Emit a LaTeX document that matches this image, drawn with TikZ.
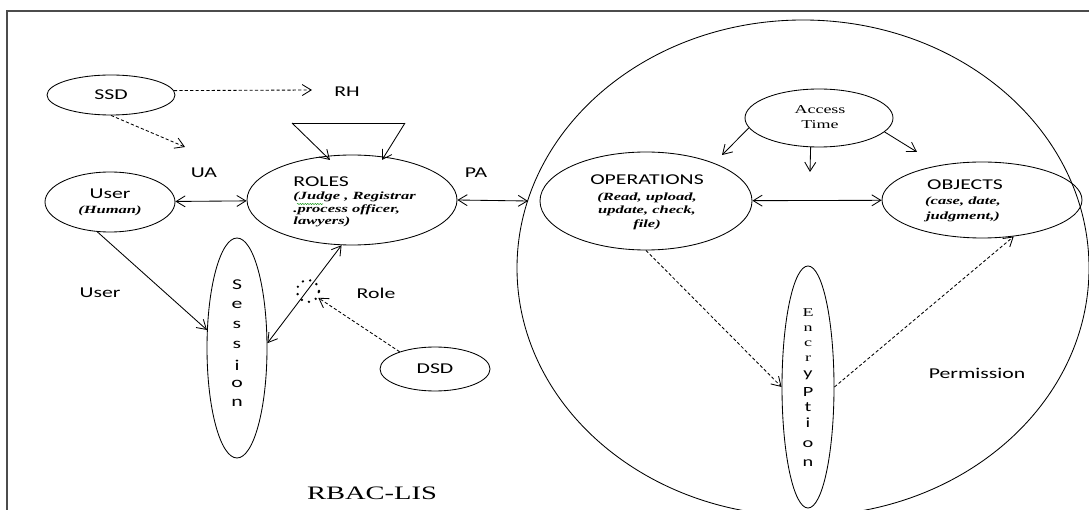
\documentclass[tikz,border=0pt]{standalone}
\usepackage{fontspec}
\usetikzlibrary{arrows.meta,shapes.geometric,decorations.pathmorphing}
\newfontfamily\lblfont[FakeStretch=1.45]{Carlito}
\newfontfamily\serfont[FakeStretch=1.5]{Liberation Serif}

\begin{document}
\begin{tikzpicture}[x=1pt,y=-1pt,line width=0.85pt,
  oval/.style={ellipse,draw,inner sep=0pt},
  lbl/.style={inner sep=0pt,font=\lblfont\fontsize{15}{18}\selectfont},
  sm/.style={inner sep=0pt,font=\lblfont\fontsize{14}{16}\selectfont},
  itl/.style={inner sep=0pt,font=\serfont\bfseries\itshape\fontsize{11}{14}\selectfont},
  ser/.style={inner sep=0pt,font=\serfont\fontsize{12}{14}\selectfont},
  arr/.style={-{Straight Barb[length=9pt,width=11pt]}},
  biarr/.style={{Straight Barb[length=9pt,width=11pt]}-{Straight Barb[length=9pt,width=11pt]}},
  dashline/.style={dash pattern=on 3.2pt off 2.2pt}]
\useasboundingbox (0,0) rectangle (1089,510);
\clip (0,0) rectangle (1089,510);

% outer frame (open at the right and bottom)
\draw[line width=1.3pt,black!70] (7,530) -- (7,11) -- (1100,11);

% ---------------- left part: users, roles, sessions ----------------
\node[oval,minimum width=128pt,minimum height=40pt] (ssd) at (111,95) {};
\node[lbl] (ssdtxt) at (111,95) {SSD};
\node[lbl] (rh) at (347,92) {RH};
\coordinate (rhin) at (312,90);
\coordinate (uain) at (185,147);

\node[oval,minimum width=130pt,minimum height=60pt] (user) at (110,202) {};
\node[lbl] (usertxt) at (110,194) {User};
\node[itl] (usersub) at (110,211) {(Human)};

\node[oval,minimum width=210pt,minimum height=90pt] (roles) at (352,200) {};
\node[lbl,anchor=west] (rolestxt) at (293,182) {ROLES};
\node[itl,anchor=west] (rolesa) at (293,197) {(Judge , Registrar};
\node[itl,anchor=west] (rolesb) at (293,210) {.process officer,};
\node[itl,anchor=west] (rolesc) at (293,222) {lawyers)};
\draw[green!55!black,line width=0.5pt,decorate,
      decoration={snake,amplitude=0.5pt,segment length=2.5pt}] (297,204) -- (323,204);

\node[lbl] (ua) at (204,173) {UA};
\node[lbl] (pa) at (476,173) {PA};

% role hierarchy loop above ROLES
\coordinate (tl) at (292,123);
\coordinate (tr) at (405,123);
\coordinate (t1) at (330,160);
\coordinate (t2) at (382,160);
\draw (tl) -- (tr);
\draw[arr] (tl) -- (t1);
\draw[arr] (tr) -- (t2);

\node[oval,minimum width=60pt,minimum height=220pt] (session) at (237,348) {};
\foreach \ch/\yy [count=\i] in {S/285,e/305,s/325,s/345,i/365,o/384,n/403}
  \node[lbl] (ses\i) at (237,\yy) {\ch};

\node[oval,minimum width=110pt,minimum height=44pt] (dsd) at (435,369) {};
\node[lbl] (dsdtxt) at (435,369) {DSD};

\node[lbl] (userlbl) at (100,293) {User};
\node[lbl] (rolelbl) at (376,293) {Role};

\node[circle,draw,line width=2.6pt,line cap=round,dash pattern=on 0pt off 7.5pt,
      minimum size=22pt,inner sep=0pt] (mark) at (308,291) {};

\node[inner sep=0pt,font=\serfont\fontsize{19}{22}\selectfont] (title) at (372,493) {RBAC-LIS};

% connectors on the left
\draw[dashline,arr] (ssd.4.6) -- (rhin);
\draw[dashline,arr] (ssd.south) -- (uain);
\draw[biarr] (user) -- (roles);
\draw[arr] (user.247) -- (session.149);
\draw[biarr] (session.9) -- (roles.257);
\draw[dashline,arr] (dsd.154) -- (mark);

% ---------------- right part: permissions ----------------
\node[oval,minimum width=572pt,minimum height=496pt] (perm) at (803,268) {};
\coordinate (pain) at (528,201);
\draw[biarr] (roles.east) -- (pain);

\node[oval,minimum width=148pt,minimum height=58pt] (acc) at (819,118) {};
\node[ser] (acca) at (820,110) {Access};
\node[ser] (accb) at (820,125) {Time};

\node[oval,minimum width=212pt,minimum height=98pt] (ops) at (646,201) {};
\node[lbl] (opstxt) at (647,180) {OPERATIONS};
\node[itl] (opsa) at (647,198) {(Read, upload,};
\node[itl] (opsb) at (647,211) {update, check,};
\node[itl] (opsc) at (647,225) {file)};

\node[oval,minimum width=200pt,minimum height=76pt] (objs) at (982,200) {};
\node[lbl] (objstxt) at (965,185) {OBJECTS};
\node[itl] (objsa) at (963,202) {(case, date,};
\node[itl] (objsb) at (963,217) {judgment,)};

\node[oval,minimum width=52pt,minimum height=242pt] (enc) at (808,387) {};
\foreach \ch/\yy [count=\i] in {E/313,n/329,c/344,r/359}
  \node[ser] (encs\i) at (808,\yy) {\ch};
\foreach \ch/\yy [count=\i] in {y/375,P/392,t/407,i/423,o/444,n/463}
  \node[sm] (encl\i) at (808,\yy) {\ch};

\node[lbl] (permlbl) at (977,373) {Permission};

\coordinate (at1) at (722,155);
\coordinate (at2) at (810,172);
\coordinate (at3) at (917,152);
\draw[arr] (acc.188) -- (at1);
\draw[arr] (acc.254) -- (at2);
\draw[arr] (acc.-12) -- (at3);

\draw[biarr] (ops) -- (objs);
\draw[dashline,arr] (ops.south) -- (enc.west);
\draw[dashline,arr] (enc.east) -- (objs.311);
\end{tikzpicture}
\end{document}
